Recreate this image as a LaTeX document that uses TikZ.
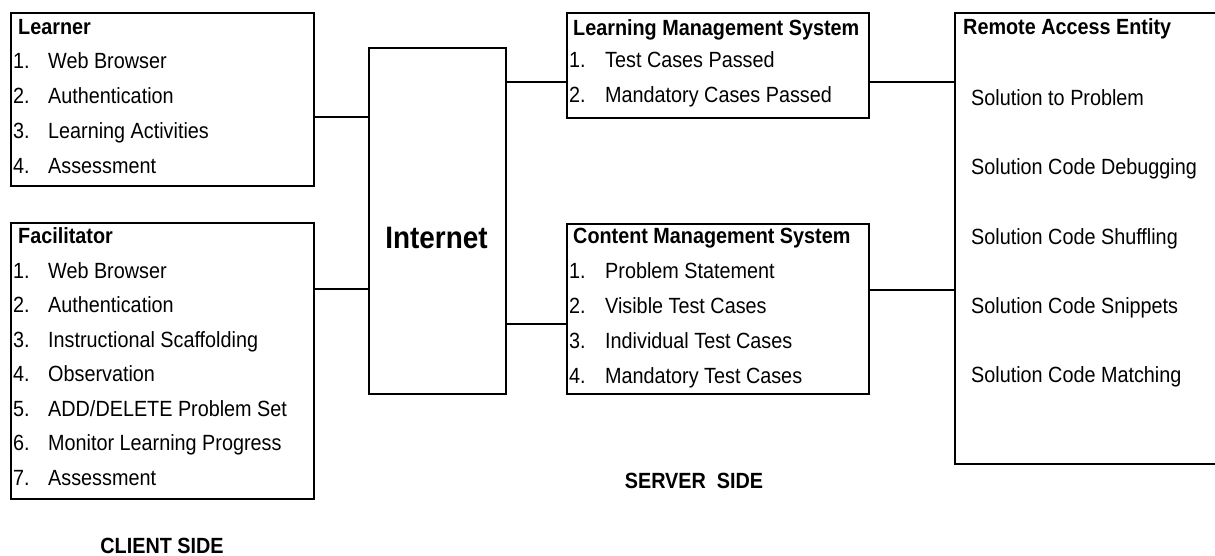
\documentclass[tikz,border=0pt]{standalone}
\usepackage{fontspec}
\setmainfont[FakeStretch=0.9]{Liberation Sans}
\begin{document}
\begin{tikzpicture}[x=1pt,y=-1pt,
  box/.style={draw, line width=2.3pt, anchor=north west, inner sep=0pt},
  wire/.style={line width=2.3pt},
  txt/.style={anchor=base west, inner sep=0pt, font=\fontsize{22}{26}\selectfont},
  hdr/.style={txt, font=\fontsize{22}{26}\selectfont\bfseries},
  side/.style={anchor=base, inner sep=0pt, font=\fontsize{22}{26}\selectfont\bfseries}]
\useasboundingbox (0,0) rectangle (1215,556);

% boxes
\node[box, minimum width=303pt, minimum height=173pt] (learner) at (10,12) {};
\node[box, minimum width=303pt, minimum height=276pt] (facil) at (10,222) {};
\node[box, minimum width=137pt, minimum height=346pt] (inet) at (368,47) {};
\node[box, minimum width=302pt, minimum height=105pt] (lms) at (566,12) {};
\node[box, minimum width=302pt, minimum height=170pt] (cms) at (566,223) {};
\node[box, minimum width=270pt, minimum height=451pt] (rea) at (954,12) {};

% connectors
\draw[wire] (learner.east |- 0,117) -- (inet.west |- 0,117);
\draw[wire] (facil.east |- 0,289) -- (inet.west |- 0,289);
\draw[wire] (inet.east |- 0,82) -- (lms.west |- 0,82);
\draw[wire] (inet.east |- 0,324) -- (cms.west |- 0,324);
\draw[wire] (lms.east |- 0,82) -- (rea.west |- 0,82);
\draw[wire] (cms.east |- 0,290) -- (rea.west |- 0,290);

% Learner
\node[hdr] (lh) at (18,35) {Learner};
\foreach \n/\t [count=\i from 0] in {1/Web Browser,2/Authentication,3/Learning Activities,4/Assessment}{
  \node[txt] (ln\n) at (13,69+34.8*\i) {\n.};
  \node[txt] (lt\n) at (48,69+34.8*\i) {\t};
}

% Facilitator
\node[hdr] (fh) at (18,243) {Facilitator};
\foreach \n/\t [count=\i from 0] in {1/Web Browser,2/Authentication,3/Instructional Scaffolding,4/Observation,5/ADD\slash DELETE Problem Set,6/Monitor Learning Progress,7/Assessment}{
  \node[txt] (fn\n) at (13,278+34.5*\i) {\n.};
  \node[txt] (ft\n) at (48,278+34.5*\i) {\t};
}

% Internet
\node[anchor=base, inner sep=0pt, font=\fontsize{31}{36}\selectfont\bfseries] (it) at (436.5,248) {Internet};

% Learning Management System
\node[hdr] (mh) at (573,36) {Learning Management System};
\foreach \n/\t [count=\i from 0] in {1/Test Cases Passed,2/Mandatory Cases Passed}{
  \node[txt] (mn\n) at (569,68+35*\i) {\n.};
  \node[txt] (mt\n) at (605,68+35*\i) {\t};
}

% Content Management System
\node[hdr] (ch) at (573,243) {Content Management System};
\foreach \n/\t [count=\i from 0] in {1/Problem Statement,2/Visible Test Cases,3/Individual Test Cases,4/Mandatory Test Cases}{
  \node[txt] (cn\n) at (569,278+35*\i) {\n.};
  \node[txt] (ct\n) at (605,278+35*\i) {\t};
}

% Remote Access Entity
\node[hdr] (rh) at (963,35) {Remote Access Entity};
\foreach \t [count=\i from 0] in {Solution to Problem,Solution Code Debugging,Solution Code Shuffling,Solution Code Snippets,Solution Code Matching}{
  \node[txt] (rt\i) at (971,106+69*\i) {\t};
}

% side labels
\node[side] (client) at (162,553) {CLIENT SIDE};
\node[side] (server) at (694,488) {SERVER\ \ SIDE};
\end{tikzpicture}
\end{document}
